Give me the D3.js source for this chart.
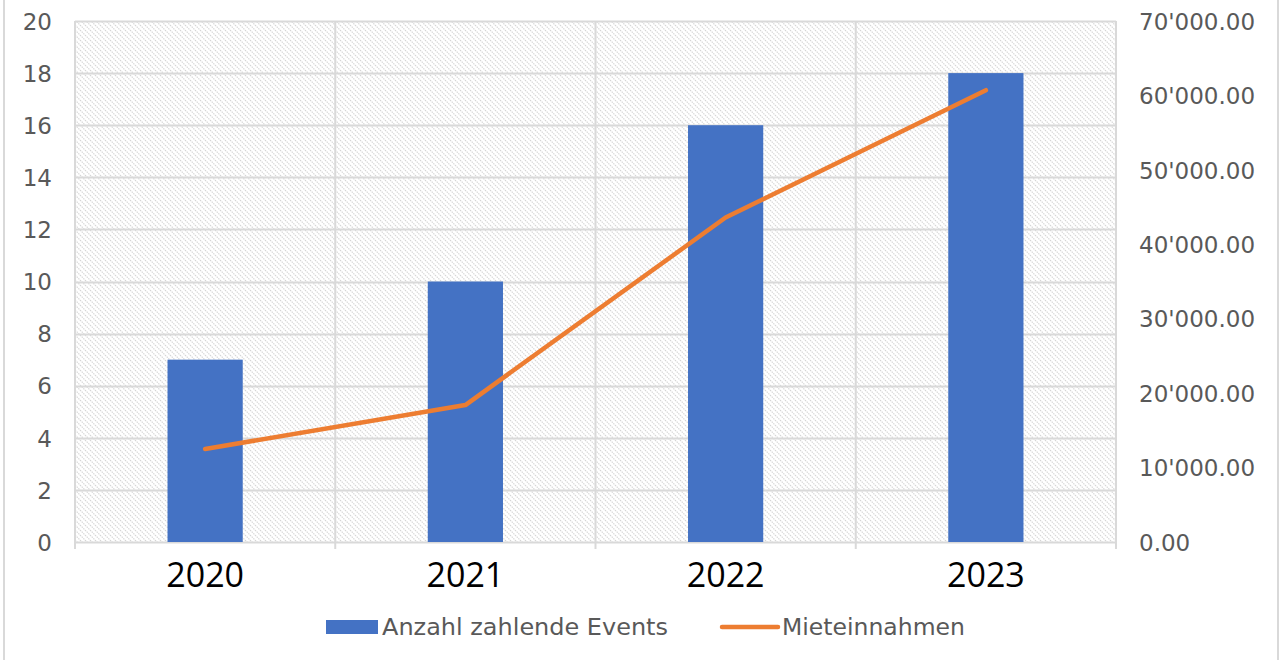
<!DOCTYPE html>
<html><head><meta charset="utf-8">
<script src="https://cdn.jsdelivr.net/npm/d3@7"></script>
<style>html,body{margin:0;padding:0;background:#fff;}svg{display:block;}</style>
</head><body>
<svg id="chart" width="1288" height="660"></svg>
<script>
const categories = ["2020", "2021", "2022", "2023"];
const events = [7, 10, 16, 18];
const rent = [12500, 18400, 43600, 60700];
const leftTicks = [0, 2, 4, 6, 8, 10, 12, 14, 16, 18, 20];
const rightTicks = [0, 10000, 20000, 30000, 40000, 50000, 60000, 70000];
const seriesNames = ["Anzahl zahlende Events", "Mieteinnahmen"];

const svg = d3.select("#chart");
const W = 1288, H = 660;
const m = {left: 75, right: 1116, top: 21, bottom: 542};

// border
svg.append("rect").attr("x", 4).attr("y", -10).attr("width", 1274).attr("height", H + 20)
  .attr("fill", "#fff").attr("stroke", "#d9d9d9").attr("stroke-width", 2);

// hatch pattern
const defs = svg.append("defs");
const pat = defs.append("pattern").attr("id", "hatch").attr("patternUnits", "userSpaceOnUse")
  .attr("width", 5).attr("height", 5);
pat.append("rect").attr("width", 5).attr("height", 5).attr("fill", "#fff");
pat.append("path").attr("d", "M0,0 L5,5 M-1,4 L1,6 M4,-1 L6,1")
  .attr("stroke", "#d4d4d4").attr("stroke-width", 1.2).attr("stroke-dasharray", "1.4,1");

const x = d3.scaleBand().domain(categories).range([m.left, m.right])
  .paddingInner(0.711).paddingOuter(0.3555);
const yL = d3.scaleLinear().domain([0, 20]).range([m.bottom, m.top]);
const yR = d3.scaleLinear().domain([0, 70000]).range([m.bottom, m.top]);

svg.append("rect").attr("x", m.left).attr("y", m.top)
  .attr("width", m.right - m.left).attr("height", m.bottom - m.top).attr("fill", "url(#hatch)");

// horizontal gridlines
svg.append("g").selectAll("line").data(leftTicks).join("line")
  .attr("x1", m.left).attr("x2", m.right)
  .attr("y1", d => Math.round(yL(d)) + 0.5).attr("y2", d => Math.round(yL(d)) + 0.5)
  .attr("stroke", "#d9d9d9").attr("stroke-width", 2);

// vertical gridlines at category boundaries
const step = x.step();
const bounds = d3.range(categories.length + 1).map(i => m.left + i * step);
svg.append("g").selectAll("line").data(bounds).join("line")
  .attr("x1", d => d).attr("x2", d => d)
  .attr("y1", m.top).attr("y2", m.bottom + 7)
  .attr("stroke", "#d9d9d9").attr("stroke-width", 2);

// bars
svg.append("g").selectAll("rect").data(categories).join("rect")
  .attr("x", d => x(d)).attr("width", x.bandwidth())
  .attr("y", (d, i) => yL(events[i])).attr("height", (d, i) => yL(0) - yL(events[i]))
  .attr("fill", "#4472C4");

// line
const line = d3.line().x((d, i) => x(categories[i]) + x.bandwidth() / 2).y(d => yR(d));
svg.append("path").datum(rent).attr("d", line).attr("fill", "none")
  .attr("stroke", "#ED7D31").attr("stroke-width", 4.5)
  .attr("stroke-linejoin", "round").attr("stroke-linecap", "round");

// left axis
const axL = d3.axisLeft(yL).tickValues(leftTicks).tickSize(0).tickPadding(0);
const gL = svg.append("g").attr("transform", "translate(52,0)").call(axL);
gL.select(".domain").remove();
gL.selectAll("text").attr("font-family", "DejaVu Sans, Verdana, sans-serif")
  .attr("font-size", 23).attr("fill", "#595959").attr("dy", "0.36em");

// right axis
const fmt = v => {
  const s = d3.format(",.2f")(v);
  return s.replace(/,/g, "'");
};
const axR = d3.axisRight(yR).tickValues(rightTicks).tickSize(0).tickPadding(0).tickFormat(fmt);
const gR = svg.append("g").attr("transform", "translate(1139,0)").call(axR);
gR.select(".domain").remove();
gR.selectAll("text").attr("font-family", "DejaVu Sans, Verdana, sans-serif")
  .attr("font-size", 23).attr("fill", "#595959").attr("dy", "0.36em");

// bottom axis labels
const axB = d3.axisBottom(x).tickSize(0).tickPadding(0);
const gB = svg.append("g").attr("transform", `translate(0,${m.bottom})`).call(axB);
gB.select(".domain").remove();
gB.selectAll("text").attr("font-family", "Open Sans, sans-serif")
  .attr("font-size", 34).attr("fill", "#000").attr("y", 45).attr("dy", 0);

// legend
const lg = svg.append("g").attr("font-family", "DejaVu Sans, Verdana, sans-serif")
  .attr("font-size", 23).attr("fill", "#595959");
lg.append("rect").attr("x", 326).attr("y", 620).attr("width", 52).attr("height", 14).attr("fill", "#4472C4");
lg.append("text").attr("x", 382).attr("y", 635).text(seriesNames[0])
  .attr("textLength", 286).attr("lengthAdjust", "spacingAndGlyphs");
lg.append("line").attr("x1", 722).attr("x2", 778).attr("y1", 627).attr("y2", 627)
  .attr("stroke", "#ED7D31").attr("stroke-width", 4.5).attr("stroke-linecap", "round");
lg.append("text").attr("x", 782).attr("y", 635).text(seriesNames[1])
  .attr("textLength", 183).attr("lengthAdjust", "spacingAndGlyphs");
</script>
</body></html>
